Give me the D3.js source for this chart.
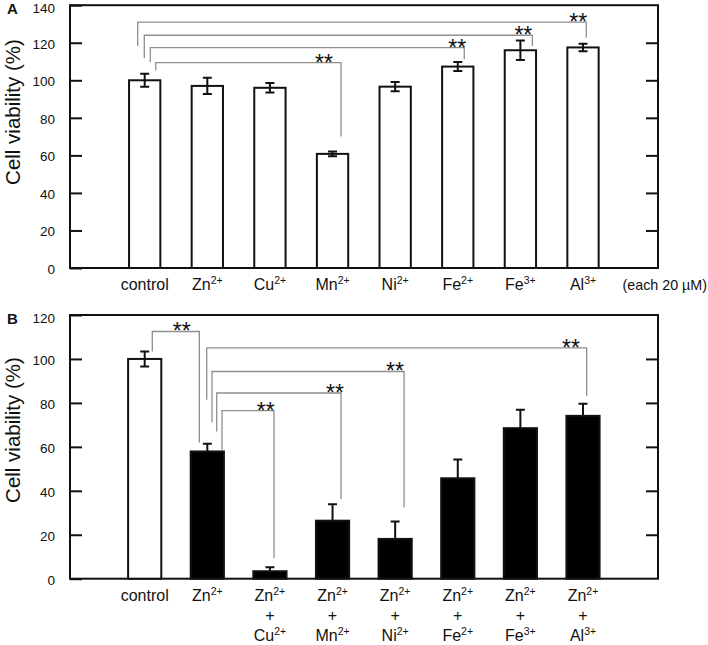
<!DOCTYPE html>
<html>
<head>
<meta charset="utf-8">
<script src="https://cdn.jsdelivr.net/npm/d3@7"></script>
<style>
  html, body { margin: 0; padding: 0; background: #fff; }
  svg { display: block; font-family: "Liberation Sans", Arial, sans-serif; }
</style>
</head>
<body>
<svg id="chart" width="708" height="645"></svg>
<script>
// ---------- data ----------
const categoriesA = ["control", "Zn2+", "Cu2+", "Mn2+", "Ni2+", "Fe2+", "Fe3+", "Al3+"];
const valuesA     = [100, 97, 96, 60.8, 96.6, 107.3, 116, 117.5];
const errorsA     = [3.5, 4.3, 2.5, 1.3, 2.5, 2.4, 5.2, 2.0];
const ticksA      = [0, 20, 40, 60, 80, 100, 120, 140];

const categoriesB = ["control", "Zn2+", "Zn2+ + Cu2+", "Zn2+ + Mn2+", "Zn2+ + Ni2+", "Zn2+ + Fe2+", "Zn2+ + Fe3+", "Zn2+ + Al3+"];
const valuesB     = [100, 57.9, 3.4, 26.4, 18.1, 45.7, 68.5, 74.1];
const errorsB     = [3.4, 3.5, 1.8, 7.5, 7.9, 8.5, 8.4, 5.5];
const ticksB      = [0, 20, 40, 60, 80, 100, 120];

// significance brackets: [from, to, level, left leg end, right leg end] (value units)
const bracketsA = [
  ["control", "Al3+", 131.0, 118.3, 122.7],
  ["control", "Fe3+", 124.0, 111.8, 118.3],
  ["control", "Fe2+", 117.4, 109.8, 111.2],
  ["control", "Mn2+", 109.4, 105.4, 70.0]
];
const bracketsB = [
  ["control", "Zn2+", 112.5, 103.4, 62.0],
  ["Zn2+", "Zn2+ + Al3+", 105.0, 81.4, 83.2],
  ["Zn2+", "Zn2+ + Ni2+", 94.3, 71.1, 32.5],
  ["Zn2+", "Zn2+ + Mn2+", 84.5, 67.0, 36.3],
  ["Zn2+", "Zn2+ + Cu2+", 76.5, 58.6, 9.3]
];
const sigLabel = "**";
const unitNote = "(each 20 µM)";
const yTitle = "Cell viability (%)";

// ---------- layout (pixels) ----------
const bracketOffsetsA = [[-7, 3.3, -8], [-0.4, 12, -9], [5.6, 6.5, -7], [11, 8.5, -17]];
const bracketOffsetsB = [[7.6, -8, -17.6], [-0.6, 3.7, -15.7], [4.7, 8.9, -9], [9.4, 8.5, -6], [14.7, 4.1, -8.3]];

const svg = d3.select("#chart");
const frameL = 70, frameR = 658;
const firstCenter = 144.7, lastCenter = 583;

function parseLabel(s) {
  return s.split(" ").map(tok => {
    const m = tok.match(/^([A-Za-z]+)(\d\+)$/);
    return m ? { base: m[1], sup: m[2] } : { base: tok, sup: "" };
  });
}

function drawPanel(opts) {
  const { cats, vals, errs, ticks, top, bottom, yMax, fill, brackets, offsets, barFrac, letter, titleY, lineGap } = opts;
  const g = svg.append("g");
  const x = d3.scalePoint().domain(cats).range([firstCenter, lastCenter]);
  const y = d3.scaleLinear().domain([0, yMax]).range([bottom, top]);
  const bw = x.step() * barFrac;

  // left axis (inward ticks)
  const leftAxis = d3.axisLeft(y).tickValues(ticks).tickSizeInner(-12).tickSizeOuter(0).tickPadding(15).tickFormat(d3.format("d"));
  const la = g.append("g").attr("transform", `translate(${frameL},0)`).call(leftAxis);
  la.select(".domain").remove();
  la.selectAll("line").attr("stroke", "#111").attr("stroke-width", 2);
  la.selectAll("text").attr("font-size", 13.5).attr("fill", "#111").attr("font-family", "Liberation Sans, Arial, sans-serif")
    .attr("dy", d => d === yMax ? "0.32em" : "0.4em")
    .attr("transform", d => d === yMax ? "translate(0,3)" : null);

  // right axis (inward ticks, no labels)
  const rightAxis = d3.axisRight(y).tickValues(ticks.filter(t => t > 0 && t < yMax)).tickSizeInner(-12).tickSizeOuter(0).tickFormat("");
  const ra = g.append("g").attr("transform", `translate(${frameR},0)`).call(rightAxis);
  ra.select(".domain").remove();
  ra.selectAll("line").attr("stroke", "#111").attr("stroke-width", 2);

  // frame
  g.append("rect").attr("x", frameL).attr("y", y(yMax)).attr("width", frameR - frameL).attr("height", y(0) - y(yMax))
    .attr("fill", "none").attr("stroke", "#111").attr("stroke-width", 2);

  // brackets
  brackets.forEach((b, i) => {
    const [from, to, lvl, lEnd, rEnd] = b;
    const [dl, dr, ds] = offsets[i];
    const xl = x(from) + dl, xr = x(to) + dr;
    g.append("path")
      .attr("d", `M${xl},${y(lEnd)}V${y(lvl)}H${xr}V${y(rEnd)}`)
      .attr("fill", "none").attr("stroke", "#8f8f8f").attr("stroke-width", 1.3);
    g.append("text").attr("x", xr + ds).attr("y", y(lvl) + 8)
      .attr("text-anchor", "middle").attr("font-size", 23).attr("fill", "#111").text(sigLabel);
  });

  // bars
  cats.forEach((c, i) => {
    const cx = x(c);
    const isFilled = fill[i];
    g.append("rect").attr("x", cx - bw / 2).attr("y", y(vals[i])).attr("width", bw).attr("height", y(0) - y(vals[i]))
      .attr("fill", isFilled ? "#000" : "#fff").attr("stroke", "#111").attr("stroke-width", 2);
    const hi = y(vals[i] + errs[i]), lo = y(vals[i] - errs[i]), top0 = y(vals[i]);
    const cap = 4.5;
    const d = isFilled
      ? `M${cx},${hi}V${top0}M${cx - cap},${hi}H${cx + cap}`
      : `M${cx},${hi}V${lo}M${cx - cap},${hi}H${cx + cap}M${cx - cap},${lo}H${cx + cap}`;
    g.append("path").attr("d", d).attr("stroke", "#111").attr("stroke-width", 2).attr("fill", "none");
  });

  // category labels
  cats.forEach(c => {
    const lines = parseLabel(c);
    lines.forEach((ln, k) => {
      const t = g.append("text").attr("x", x(c)).attr("y", bottom + 22 + k * lineGap)
        .attr("text-anchor", "middle").attr("font-size", 16).attr("fill", "#111");
      t.append("tspan").text(ln.base);
      if (ln.sup) t.append("tspan").attr("font-size", 10.5).attr("dy", -6).text(ln.sup);
    });
  });

  // y title
  g.append("text").attr("transform", `translate(19.5,${titleY}) rotate(-90)`)
    .attr("text-anchor", "middle").attr("font-size", 20.5).attr("fill", "#111").text(yTitle);

  // panel letter
  g.append("text").attr("x", 7).attr("y", top + 9).attr("font-size", 15).attr("font-weight", "bold").attr("fill", "#111").text(letter);
  return { x, y, g };
}

const pA = drawPanel({
  cats: categoriesA, vals: valuesA, errs: errorsA, ticks: ticksA,
  top: 5.2, bottom: 268, yMax: 140, fill: categoriesA.map(() => false),
  brackets: bracketsA, offsets: bracketOffsetsA, barFrac: 0.5, letter: "A", titleY: 112, lineGap: 20
});
pA.g.append("text").attr("x", 622.5).attr("y", 290).attr("font-size", 14.3).attr("fill", "#111").text(unitNote);

drawPanel({
  cats: categoriesB, vals: valuesB, errs: errorsB, ticks: ticksB,
  top: 315, bottom: 578.7, yMax: 120, fill: categoriesB.map((c, i) => i > 0),
  brackets: bracketsB, offsets: bracketOffsetsB, barFrac: 0.53, letter: "B", titleY: 430, lineGap: 20.3
});
</script>
</body>
</html>
